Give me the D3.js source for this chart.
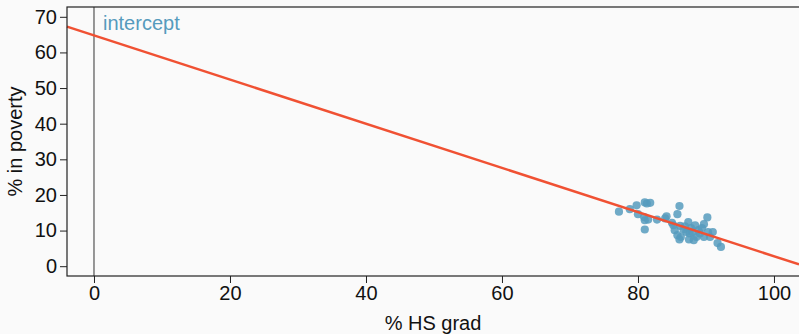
<!DOCTYPE html>
<html>
<head>
<meta charset="utf-8">
<script src="https://cdn.jsdelivr.net/npm/d3@7"></script>
<style>
  body { margin: 0; background: #fafafa; }
  svg { display: block; font-family: "Liberation Sans", Arial, sans-serif; }
</style>
</head>
<body>
<svg width="799" height="334"></svg>
<script>
// % HS grad vs % in poverty, one dot per state
const hsGrad = [77.2, 78.8, 79.8, 81.0, 81.8, 81.3, 80.0, 80.9, 81.0, 81.5, 81.0, 82.8, 84.2, 84.0,
  86.1, 85.8, 85.0, 86.2, 86.9, 85.8, 86.3, 86.1, 87.5, 87.6, 88.4, 88.9, 88.6, 89.7, 90.2, 89.7,
  91.0, 90.6, 91.7, 92.2, 87.1, 89.1, 85.2, 86.7, 87.8, 87.4, 89.4, 85.4, 88.2, 90.3, 88.0];
const poverty = [15.3, 16.0, 17.1, 17.9, 17.8, 17.6, 14.6, 13.8, 12.9, 13.1, 10.3, 13.1, 14.0, 13.4,
  16.9, 14.6, 12.2, 11.3, 11.2, 8.7, 8.2, 7.5, 7.5, 9.2, 11.5, 10.1, 8.2, 11.8, 13.7, 8.2,
  9.6, 8.2, 6.5, 5.4, 9.6, 9.2, 11.5, 10.3, 10.7, 12.4, 10.7, 10.1, 7.3, 9.6, 9.5];
const lineCoef = [64.78, -0.62];   // intercept, slope
const xTicks = [0, 20, 40, 60, 80, 100];
const yTicks = [0, 10, 20, 30, 40, 50, 60, 70];

const svg = d3.select('svg');
const margin = {top: 7, right: 0, bottom: 58, left: 67};
const width = 799, height = 334;

svg.append('rect').attr('width', width).attr('height', height).attr('fill', '#fafafa');

const x = d3.scaleLinear().domain([-3.97, 103.68]).range([margin.left, width - margin.right]);
const y = d3.scaleLinear().domain([-2.75, 72.75]).range([height - margin.bottom, margin.top]);

const g = svg.append('g');

// vertical line at x = 0
g.append('line')
  .attr('x1', x(0)).attr('x2', x(0))
  .attr('y1', y.range()[1]).attr('y2', y.range()[0])
  .attr('stroke', '#333').attr('stroke-width', 1);

const pts = hsGrad.map((d, i) => ({hs: d, pov: poverty[i]}));
g.selectAll('.dot')
  .data(pts)
  .enter().append('circle')
  .attr('class', 'dot')
  .attr('cx', d => x(d.hs))
  .attr('cy', d => y(d.pov))
  .attr('r', 4.1)
  .attr('fill', '#569BBD')
  .attr('fill-opacity', 0.85);

const xd = x.domain();
g.append('line')
  .attr('x1', x(xd[0])).attr('y1', y(lineCoef[0] + lineCoef[1] * xd[0]))
  .attr('x2', x(xd[1])).attr('y2', y(lineCoef[0] + lineCoef[1] * xd[1]))
  .attr('stroke', '#F05133').attr('stroke-width', 2.5);

// plot frame (right side falls off the canvas)
svg.append('rect')
  .attr('x', margin.left).attr('y', margin.top)
  .attr('width', width - margin.left + 5).attr('height', y.range()[0] - margin.top)
  .attr('fill', 'none').attr('stroke', '#222').attr('stroke-width', 1.2);

const xAxis = svg.append('g')
  .attr('transform', 'translate(0,' + y.range()[0] + ')')
  .call(d3.axisBottom(x).tickValues(xTicks).tickSize(7).tickPadding(3));
const yAxis = svg.append('g')
  .attr('transform', 'translate(' + margin.left + ',0)')
  .call(d3.axisLeft(y).tickValues(yTicks).tickSize(7).tickPadding(3));

[xAxis, yAxis].forEach(a => {
  a.select('.domain').remove();
  a.selectAll('line').attr('stroke', '#222');
  a.selectAll('text').attr('fill', '#111').style('font-size', '20px')
    .style('font-family', '"Liberation Sans", Arial, sans-serif');
});

svg.append('text')
  .attr('x', (x(0) + x(100)) / 2 - 1).attr('y', 330)
  .attr('text-anchor', 'middle').attr('fill', '#111')
  .style('font-size', '20px')
  .text('% HS grad');

svg.append('text')
  .attr('transform', 'translate(22,' + ((margin.top + y.range()[0]) / 2) + ') rotate(-90)')
  .attr('text-anchor', 'middle').attr('fill', '#111')
  .style('font-size', '20px')
  .text('% in poverty');

svg.append('text')
  .attr('x', x(0) + 9).attr('y', 30)
  .attr('fill', '#569BBD')
  .style('font-size', '20px')
  .text('intercept');
</script>
</body>
</html>
